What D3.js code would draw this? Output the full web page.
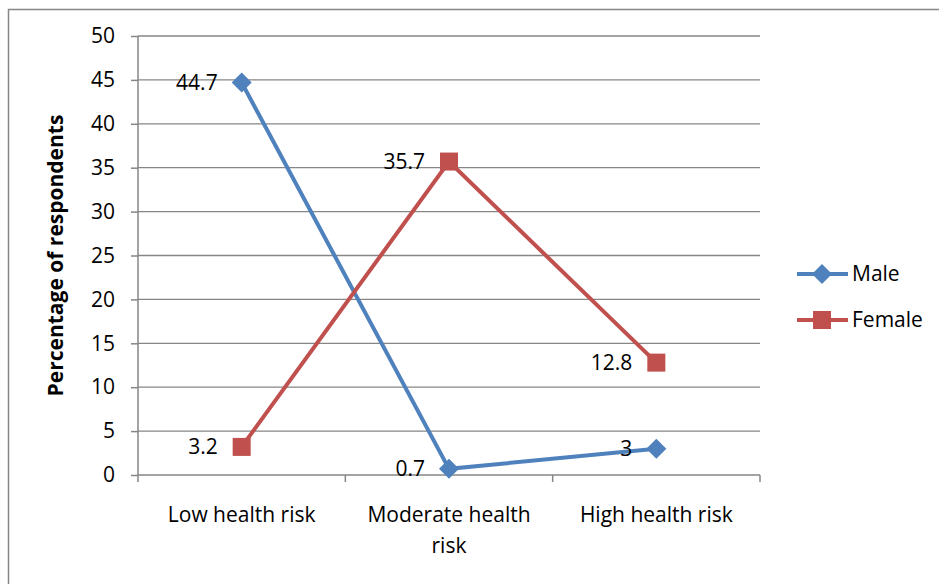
<!DOCTYPE html>
<html>
<head>
<meta charset="utf-8">
<script src="https://cdnjs.cloudflare.com/ajax/libs/d3/7.8.5/d3.min.js"></script>
<style>
  body { margin: 0; background: #fff; }
  svg text { font-family: "Open Sans", sans-serif; fill: #000; }
</style>
</head>
<body>
<svg id="chart" width="939" height="584"></svg>
<script>
var categories = ["Low health risk", "Moderate health risk", "High health risk"];
var male = [44.7, 0.7, 3];
var female = [3.2, 35.7, 12.8];
var yTicks = [0, 5, 10, 15, 20, 25, 30, 35, 40, 45, 50];

var series = [
    { name: "Male", values: male, color: "#4F81BD", marker: "diamond" },
    { name: "Female", values: female, color: "#C0504D", marker: "square" }
];

var w = 939, h = 584;
var plotLeft = 138, plotRight = 760, plotTop = 36, plotBottom = 475;
var fontSize = "21px";
var svg = d3.select("#chart");

// outer chart frame
svg.append("rect")
    .attr("x", 8.5).attr("y", 9.5)
    .attr("width", 960).attr("height", 620)
    .attr("fill", "none")
    .attr("stroke", "#868686")
    .attr("stroke-width", 1.5);

var xScale = d3.scaleBand().domain(categories).range([plotLeft, plotRight]);
var yScale = d3.scaleLinear().domain([0, 50]).range([plotBottom, plotTop]);

// horizontal grid
svg.append("g")
    .selectAll("line")
    .data(yTicks.filter(d => d > 0))
    .enter().append("line")
    .attr("x1", plotLeft).attr("x2", plotRight)
    .attr("y1", d => yScale(d)).attr("y2", d => yScale(d))
    .attr("stroke", "#868686")
    .attr("stroke-width", 1.3);

// y axis
var yAxis = svg.append("g")
    .attr("transform", `translate(${plotLeft},0)`)
    .call(d3.axisLeft(yScale).tickValues(yTicks).tickSize(7).tickPadding(16));
yAxis.selectAll("path, line").attr("stroke", "#868686").attr("stroke-width", 1.5);
yAxis.select(".domain").attr("d", `M0,${plotBottom}V${plotTop}`);
yAxis.selectAll("text")
    .style("font-size", fontSize)
    .style("font-family", "'Open Sans', sans-serif");

// x axis
var xAxis = svg.append("g")
    .attr("transform", `translate(0,${plotBottom})`);
xAxis.append("line")
    .attr("x1", plotLeft).attr("x2", plotRight)
    .attr("stroke", "#868686").attr("stroke-width", 1.5);
var xTickPos = categories.map(c => xScale(c)).concat([xScale(categories[2]) + xScale.bandwidth()]);
xAxis.selectAll(".xtick")
    .data(xTickPos)
    .enter().append("line")
    .attr("x1", d => d).attr("x2", d => d)
    .attr("y1", 0).attr("y2", 7)
    .attr("stroke", "#868686").attr("stroke-width", 1.5);

// category labels (wrapped like Excel)
var catLines = [["Low health risk"], ["Moderate health", "risk"], ["High health risk"]];
categories.forEach(function(c, i) {
    var t = svg.append("text")
        .attr("text-anchor", "middle")
        .style("font-size", fontSize);
    catLines[i].forEach(function(line, j) {
        t.append("tspan")
            .attr("x", xScale(c) + xScale.bandwidth() / 2)
            .attr("y", 522 + j * 31)
            .text(line);
    });
});

// y axis title
svg.append("text")
    .attr("transform", `translate(63,${(plotTop + plotBottom) / 2}) rotate(-90)`)
    .attr("text-anchor", "middle")
    .style("font-size", "21px")
    .style("font-weight", "bold")
    .text("Percentage of respondents");

var line = d3.line()
    .x((d, i) => xScale(categories[i]) + xScale.bandwidth() / 2)
    .y(d => yScale(d));

function drawMarker(g, type, x, y, color) {
    if (type === "diamond") {
        g.append("path")
            .attr("d", `M${x},${y - 10}L${x + 10},${y}L${x},${y + 10}L${x - 10},${y}Z`)
            .attr("fill", color);
    } else {
        g.append("rect")
            .attr("x", x - 9).attr("y", y - 9)
            .attr("width", 18).attr("height", 18)
            .attr("fill", color);
    }
}

series.forEach(function(s) {
    svg.append("path")
        .datum(s.values)
        .attr("d", line)
        .attr("fill", "none")
        .attr("stroke", s.color)
        .attr("stroke-width", 4);
    var g = svg.append("g");
    s.values.forEach(function(v, i) {
        var cx = xScale(categories[i]) + xScale.bandwidth() / 2;
        drawMarker(g, s.marker, cx, yScale(v), s.color);
    });
    // data labels, placed left of the point
    s.values.forEach(function(v, i) {
        var cx = xScale(categories[i]) + xScale.bandwidth() / 2;
        svg.append("text")
            .attr("x", cx - 24)
            .attr("y", yScale(v))
            .attr("dy", "0.35em")
            .attr("text-anchor", "end")
            .style("font-size", fontSize)
            .text(v);
    });
});

// legend
var legend = svg.append("g").attr("class", "legend");
series.forEach(function(s, i) {
    var ly = 274 + i * 46;
    legend.append("line")
        .attr("x1", 797).attr("x2", 848)
        .attr("y1", ly).attr("y2", ly)
        .attr("stroke", s.color)
        .attr("stroke-width", 4);
    drawMarker(legend, s.marker, 822, ly, s.color);
    legend.append("text")
        .attr("x", 852)
        .attr("y", ly)
        .attr("dy", "0.35em")
        .style("font-size", fontSize)
        .text(s.name);
});
</script>
</body>
</html>
